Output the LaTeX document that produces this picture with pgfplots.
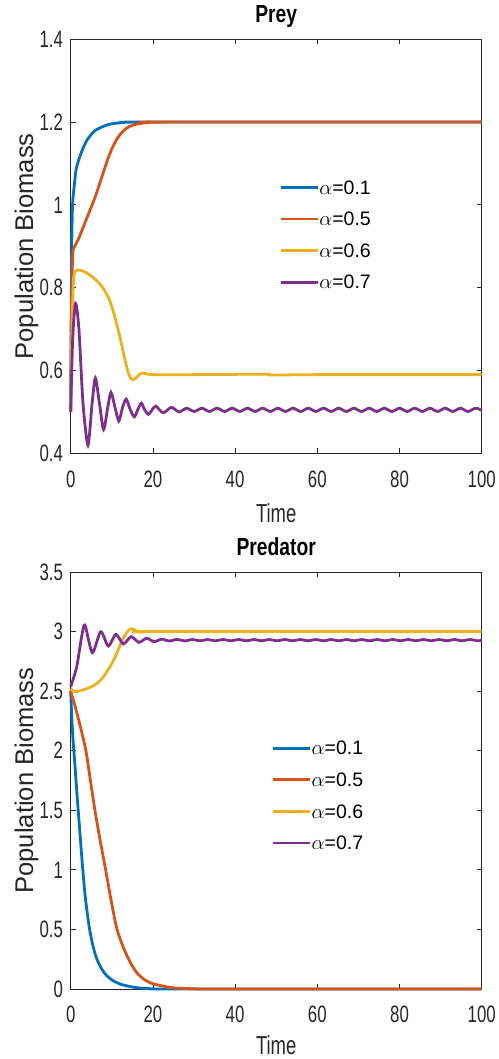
\documentclass[border=0pt]{standalone}
\usepackage{fontspec}
\setmainfont{Liberation Sans}
\newfontfamily\narrowfont[FakeStretch=0.71]{Liberation Sans}
\newfontfamily\titlefont[FakeStretch=0.78]{Liberation Sans}
\usepackage{pgfplots}
\pgfplotsset{compat=1.18}
\definecolor{mblue}{HTML}{0072BD}
\definecolor{morange}{HTML}{D95319}
\definecolor{myellow}{HTML}{EDB120}
\definecolor{mpurple}{HTML}{7E2F8E}
\definecolor{mgray}{HTML}{262626}
\pgfplotsset{
  mstyle/.style={
    scale only axis, width=411bp,
    xmin=0, xmax=100, xtick={0,20,40,60,80,100},
    axis line style={draw=mgray, line width=0.8bp},
    every tick/.style={draw=mgray, line width=0.8bp},
    major tick length=5bp, tick align=inside,
    clip=false,
    /pgf/number format/assume math mode=true,
    tick label style={font=\narrowfont\fontsize{23.7bp}{26bp}\selectfont, text=mgray},
    xticklabel style={anchor=north, inner sep=0pt, yshift=-17bp},
    yticklabel style={anchor=east, inner sep=0pt, xshift=-7.5bp},
    xlabel style={at={(axis description cs:0.5,0)}, anchor=base, yshift=-69bp,
      font=\narrowfont\fontsize{26bp}{30bp}\selectfont, text=mgray},
    ylabel style={at={(axis description cs:-0.0917,0.5)}, anchor=base, rotate=0,
      font=\fontsize{25.6bp}{30bp}\selectfont, text=mgray},
    title style={at={(axis description cs:0.5,1)}, anchor=base, yshift=10.7bp,
      font=\titlefont\bfseries\fontsize{24.7bp}{28bp}\selectfont},
    xlabel={Time}, ylabel={Population Biomass},
    legend image code/.code={\draw[##1] (0bp,0bp) -- (37bp,0bp);},
    legend style={draw=none, fill=none, inner sep=0pt, row sep=18.2bp,
      font=\fontsize{19.5bp}{22bp}\selectfont,
      nodes={inner sep=0pt, text height=13.4bp, text depth=0pt},
      /tikz/every even column/.append style={column sep=4bp}},
    legend cell align=left,
    every axis plot/.append style={line width=2.8bp, smooth, tension=0.45},
  }
}
\begin{document}
\begin{tikzpicture}
\useasboundingbox (-70.7bp,-605.7bp) rectangle (428.3bp,453.3bp);
\begin{axis}[mstyle, height=414bp, title={Prey},
  ymin=0.4, ymax=1.4, ytick={0.4,0.6,0.8,1,1.2,1.4},
  legend style={at={(0.5075,0.659)}, anchor=north west}]
\addplot[mblue] coordinates {(0,0.5) (0.1,0.7) (0.25,0.9) (0.45,1.0) (0.8,1.04) (1.3,1.085) (2,1.11) (3,1.137) (4,1.157) (5,1.17) (6,1.18) (8,1.19) (10,1.196) (13,1.199) (18,1.2) (100,1.2)};
\addplot[morange] coordinates {(0,0.5) (0.2,0.75) (0.5,0.88) (1,0.9) (2,0.92) (3,0.945) (4,0.97) (5,0.995) (6,1.02) (7,1.05) (8,1.08) (9,1.11) (10,1.135) (11,1.155) (12,1.17) (13,1.18) (14,1.188) (16,1.195) (19,1.199) (23,1.2) (100,1.2)};
\addplot[myellow] coordinates {(0,0.5) (0.3,0.7) (0.7,0.82) (1.2,0.84) (2,0.843) (3,0.84) (4,0.835) (5,0.828) (6,0.82) (7,0.81) (8,0.797) (9,0.78) (10,0.755) (11,0.72) (12,0.68) (13,0.635) (14,0.595) (14.7,0.58) (15.3,0.578) (16,0.583) (16.8,0.591) (17.5,0.594) (18.5,0.592) (20,0.59) (30,0.59) (47,0.591) (49,0.589) (60,0.59) (100,0.59)};
\addplot[mpurple] coordinates {(0,0.5) (0.5,0.68) (1.2,0.762) (2,0.7) (3,0.52) (4.2,0.42) (5.2,0.52) (6,0.582) (7,0.52) (8,0.457) (9,0.51) (9.8,0.547) (10.8,0.51) (11.7,0.478) (12.6,0.51) (13.5,0.531) (14.5,0.505) (15.5,0.488) (16.3,0.505) (17.2,0.521) (18,0.505) (18.9,0.494) (19.8,0.505) (20.7,0.514) (22.5,0.498) (24.5,0.511) (26.35,0.5) (28.2,0.509) (30.05,0.501) (31.9,0.509) (33.75,0.501) (35.6,0.509) (37.45,0.501) (39.3,0.509) (41.15,0.501) (43.0,0.509) (44.85,0.501) (46.7,0.509) (48.55,0.501) (50.4,0.509) (52.25,0.501) (54.1,0.509) (55.95,0.501) (57.8,0.509) (59.65,0.501) (61.5,0.509) (63.35,0.501) (65.2,0.509) (67.05,0.501) (68.9,0.509) (70.75,0.501) (72.6,0.509) (74.45,0.501) (76.3,0.509) (78.15,0.501) (80.0,0.509) (81.85,0.501) (83.7,0.509) (85.55,0.501) (87.4,0.509) (89.25,0.501) (91.1,0.509) (92.95,0.501) (94.8,0.509) (96.65,0.501) (98.5,0.509) (100,0.504)};
\legend{$\alpha$=0.1,$\alpha$=0.5,$\alpha$=0.6,$\alpha$=0.7}
\end{axis}
\begin{axis}[mstyle, at={(0,-535.7bp)}, height=417bp, title={Predator},
  ymin=0, ymax=3.5, ytick={0,0.5,1,1.5,2,2.5,3,3.5},
  xlabel style={yshift=4bp},
  legend style={at={(0.489,0.594)}, anchor=north west}]
\addplot[mblue] coordinates {(0,2.5) (0.3,2.25) (0.65,2.05) (1.05,1.87) (1.6,1.6) (2.27,1.30) (2.9,1.02) (3.49,0.79) (4.1,0.62) (4.7,0.48) (5.5,0.35) (6.33,0.255) (7.5,0.17) (8.76,0.113) (10.3,0.07) (12,0.042) (14.5,0.02) (16.9,0.008) (20,0.002) (25,0) (100,0)};
\addplot[morange] coordinates {(0,2.5) (1,2.38) (2.3,2.21) (3.7,2.0) (4.8,1.75) (5.9,1.5) (7.1,1.26) (8.4,1.02) (9.8,0.75) (11.2,0.51) (12.8,0.35) (14.4,0.23) (16,0.14) (17.7,0.085) (19.5,0.05) (21.7,0.03) (25,0.01) (30,0.002) (35,0) (100,0)};
\addplot[myellow] coordinates {(0,2.52) (1,2.495) (3,2.51) (5.5,2.545) (7.5,2.6) (9.56,2.705) (11,2.8) (12.4,2.915) (13.5,2.985) (14.4,3.02) (15.3,3.02) (16.2,3.0) (16.9,2.994) (18,2.998) (20,3.0) (100,3.0)};
\addplot[mpurple] coordinates {(0,2.537) (1.46,2.705) (2.68,2.96) (3.48,3.055) (5.26,2.823) (7.3,2.999) (9.15,2.879) (11.0,2.977) (12.8,2.896) (14.7,2.957) (16.6,2.91) (18.5,2.944) (20.3,2.915) (22.1,2.936) (23.975,2.921) (25.85,2.934) (27.725,2.922) (29.6,2.933) (31.475,2.923) (33.35,2.933) (35.225,2.923) (37.1,2.933) (38.975,2.923) (40.85,2.933) (42.725,2.923) (44.6,2.933) (46.475,2.923) (48.35,2.933) (50.225,2.923) (52.1,2.933) (53.975,2.923) (55.85,2.933) (57.725,2.923) (59.6,2.933) (61.475,2.923) (63.35,2.933) (65.225,2.923) (67.1,2.933) (68.975,2.923) (70.85,2.933) (72.725,2.923) (74.6,2.933) (76.475,2.923) (78.35,2.933) (80.225,2.923) (82.1,2.933) (83.975,2.923) (85.85,2.933) (87.725,2.923) (89.6,2.933) (91.475,2.923) (93.35,2.933) (95.225,2.923) (97.1,2.933) (98.975,2.923) (100,2.926)};
\legend{$\alpha$=0.1,$\alpha$=0.5,$\alpha$=0.6,$\alpha$=0.7}
\end{axis}
\end{tikzpicture}
\end{document}
